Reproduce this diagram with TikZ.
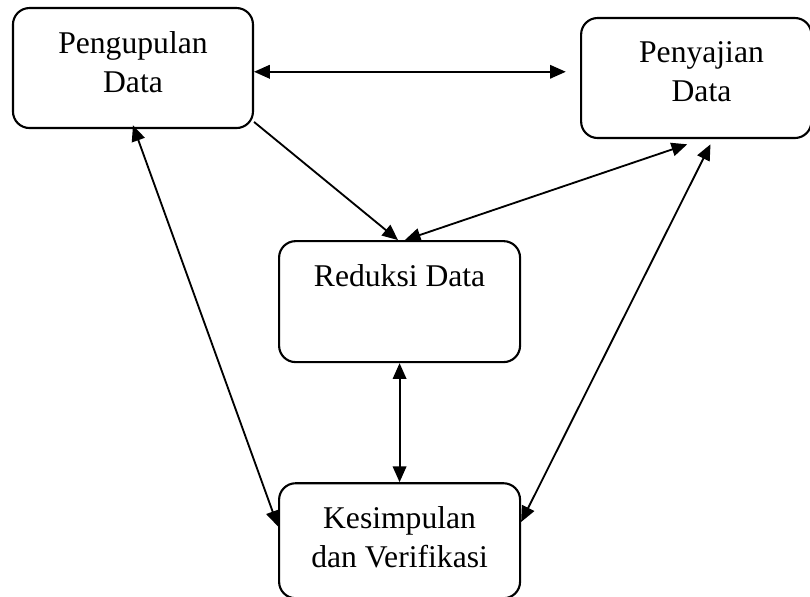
\documentclass[tikz,border=0pt]{standalone}
\usepackage{fontspec}
\setmainfont{Liberation Serif}
\usetikzlibrary{positioning,arrows.meta}

\begin{document}
\begin{tikzpicture}[box/.style={draw,rounded corners=2.2mm,line width=0.8pt,minimum width=3.2cm,minimum height=1.6cm},
		txt/.style={anchor=north,align=center,inner sep=0pt,yshift=-3.2mm,font=\fontsize{12pt}{14.8pt}\selectfont},
		arr/.style={line width=0.7pt,-{Triangle[length=2.1mm,width=1.8mm]}},
		arrs/.style={line width=0.7pt,{Triangle[length=2.1mm,width=1.8mm]}-{Triangle[length=2.1mm,width=1.8mm]}}]
		\useasboundingbox (0,0) rectangle (10.8,-7.947);
		
		\node[box,label={[txt]north:Pengupulan\\Data}] (kumpul) at (1.773,-0.907) {};
		\node[box,minimum width=3.07cm,right=4.347cm of kumpul,yshift=-1.33mm,label={[txt,xshift=0.7mm]north:Penyajian\\Data}] (sajian) {};
		
		\node[box,minimum width=3.213cm,minimum height=1.613cm,below right=1.48cm and 0.32cm of kumpul,label={[txt]north:Reduksi Data}] (reduksi) {};
		\node[box,minimum width=3.213cm,minimum height=1.533cm,below=1.587cm of reduksi,label={[txt]north:Kesimpulan\\dan Verifikasi}] (simpul) {};
		
		\coordinate (k1) at ([yshift=-0.5mm]kumpul.east);
		\draw[arrs] (k1) -- ([xshift=-1.9mm]sajian.west |- k1);
		
		\draw[arr] (kumpul.-24) -- ([xshift=-0.2mm]reduksi.north);
		\draw[arrs] ([xshift=-1.2mm,yshift=-0.7mm]sajian.south) -- ([xshift=0.7mm]reduksi.north);
		
		\draw[arrs] ([yshift=0.5mm]kumpul.south) -- ([yshift=1.9mm]simpul.west);
		\draw[arrs] ([xshift=1.9mm,yshift=-0.7mm]sajian.south) -- ([yshift=2.5mm]simpul.east);
		
		\draw[arrs] (reduksi) -- (simpul);
	\end{tikzpicture}
\end{document}
